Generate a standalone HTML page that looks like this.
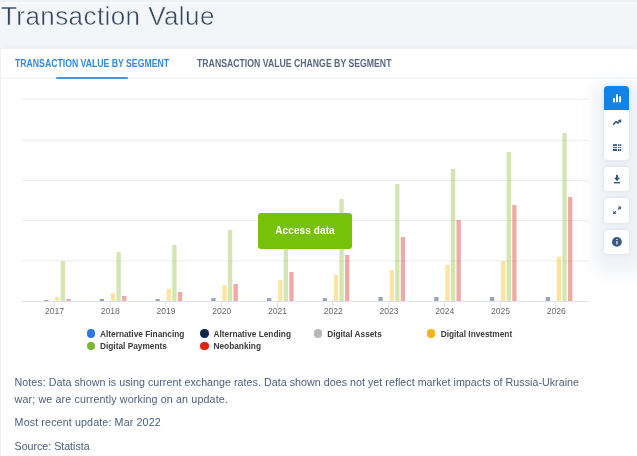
<!DOCTYPE html>
<html><head><meta charset="utf-8">
<style>
*{margin:0;padding:0;box-sizing:border-box}
html,body{width:637px;height:456px;overflow:hidden;background:#f3f6f9;font-family:"Liberation Sans",sans-serif}
.abs{position:absolute}
#topstrip{left:0;top:0;width:637px;height:2px;background:#eef1f6}
#topstrip2{left:0;top:2px;width:637px;height:2.2px;background:#f8fafc}
#title{left:1px;top:-0.2px;font-size:26px;line-height:32px;color:#34455c;white-space:nowrap;letter-spacing:0.42px;-webkit-text-stroke:0.5px #f3f6f9}
#card{left:1px;top:48.5px;width:637px;height:420px;background:#fff;border-radius:4px;box-shadow:0 -1px 7px rgba(40,60,90,0.06)}
.tab{top:58.2px;font-size:10px;font-weight:700;white-space:nowrap;line-height:11px;transform-origin:0 0}
#tab1{left:15px;color:#2f8ae0;transform:scaleX(0.868)}
#tab2{left:197.3px;color:#566980;transform:scaleX(0.870)}
#tabline{left:1px;top:77px;width:640px;height:2px;background:#f5f7fa}
#tabul{left:55.8px;top:77px;width:72.7px;height:2px;background:#4797de;border-radius:1px}
.notes{left:14.6px;font-size:10.7px;color:#4b6080;white-space:nowrap;line-height:17px}
#chart text{font-family:"Liberation Sans",sans-serif;font-size:8.6px;fill:#666}
.lg{font-size:8.3px;font-weight:700;color:#3a3a3a;white-space:nowrap;line-height:10px}
.dot{width:8.3px;height:8.3px;border-radius:50%}
#tbshadow{left:594px;top:82px;width:52px;height:190px;border-radius:12px;background:#eef1f6;filter:blur(8px)}
.tb{left:604px;width:25px;background:#fff;border-radius:4px;box-shadow:0 0 4px rgba(40,60,100,0.10)}
#access{left:258px;top:213px;width:94px;height:36px;background:#77c10b;border-radius:3px;color:#fff;font-weight:700;font-size:10px;line-height:36px;text-align:center;letter-spacing:0.1px}
</style></head><body>
<div class="abs" id="topstrip"></div>
<div class="abs" id="topstrip2"></div>
<div class="abs" id="title">Transaction Value</div>
<div class="abs" id="card"></div>
<div class="abs" id="tabline"></div>
<div class="abs tab" id="tab1">TRANSACTION VALUE BY SEGMENT</div>
<div class="abs tab" id="tab2">TRANSACTION VALUE CHANGE BY SEGMENT</div>
<div class="abs" id="tabul"></div>

<svg class="abs" id="chart" style="left:0;top:0" width="637" height="456">
<rect x="21.7" y="98.65" width="567.3" height="1" fill="#ececec"/>
<rect x="21.7" y="139.75" width="567.3" height="1" fill="#ececec"/>
<rect x="21.7" y="180" width="567.3" height="1" fill="#ececec"/>
<rect x="21.7" y="220" width="567.3" height="1" fill="#ececec"/>
<rect x="21.7" y="260.4" width="567.3" height="1" fill="#ececec"/>
<rect x="44.03" y="300" width="4.3" height="1" fill="#112b48" fill-opacity="0.42"/>
<rect x="99.77" y="299" width="4.3" height="2" fill="#112b48" fill-opacity="0.42"/>
<rect x="155.51" y="299" width="4.3" height="2" fill="#112b48" fill-opacity="0.42"/>
<rect x="211.25" y="298" width="4.3" height="3" fill="#112b48" fill-opacity="0.42"/>
<rect x="266.99" y="298" width="4.3" height="3" fill="#112b48" fill-opacity="0.42"/>
<rect x="322.73" y="298" width="4.3" height="3" fill="#112b48" fill-opacity="0.42"/>
<rect x="378.47" y="297" width="4.3" height="4" fill="#112b48" fill-opacity="0.42"/>
<rect x="434.21" y="297" width="4.3" height="4" fill="#112b48" fill-opacity="0.42"/>
<rect x="489.95" y="297" width="4.3" height="4" fill="#112b48" fill-opacity="0.42"/>
<rect x="545.69" y="297" width="4.3" height="4" fill="#112b48" fill-opacity="0.42"/>
<rect x="55.18" y="297" width="4.3" height="4" fill="#fabc1d" fill-opacity="0.42"/>
<rect x="110.92" y="293" width="4.3" height="8" fill="#fabc1d" fill-opacity="0.42"/>
<rect x="166.66" y="289" width="4.3" height="12" fill="#fabc1d" fill-opacity="0.42"/>
<rect x="222.40" y="285" width="4.3" height="16" fill="#fabc1d" fill-opacity="0.42"/>
<rect x="278.14" y="280" width="4.3" height="21" fill="#fabc1d" fill-opacity="0.42"/>
<rect x="333.88" y="275" width="4.3" height="26" fill="#fabc1d" fill-opacity="0.42"/>
<rect x="389.62" y="270" width="4.3" height="31" fill="#fabc1d" fill-opacity="0.42"/>
<rect x="445.36" y="265" width="4.3" height="36" fill="#fabc1d" fill-opacity="0.42"/>
<rect x="501.10" y="261" width="4.3" height="40" fill="#fabc1d" fill-opacity="0.42"/>
<rect x="556.84" y="257" width="4.3" height="44" fill="#fabc1d" fill-opacity="0.42"/>
<rect x="60.75" y="261" width="4.3" height="40" fill="#96c143" fill-opacity="0.42"/>
<rect x="116.49" y="252" width="4.3" height="49" fill="#96c143" fill-opacity="0.42"/>
<rect x="172.23" y="245" width="4.3" height="56" fill="#96c143" fill-opacity="0.42"/>
<rect x="227.97" y="230" width="4.3" height="71" fill="#96c143" fill-opacity="0.42"/>
<rect x="283.71" y="215" width="4.3" height="86" fill="#96c143" fill-opacity="0.42"/>
<rect x="339.45" y="199" width="4.3" height="102" fill="#96c143" fill-opacity="0.42"/>
<rect x="395.19" y="184" width="4.3" height="117" fill="#96c143" fill-opacity="0.42"/>
<rect x="450.93" y="169" width="4.3" height="132" fill="#96c143" fill-opacity="0.42"/>
<rect x="506.67" y="152" width="4.3" height="149" fill="#96c143" fill-opacity="0.42"/>
<rect x="562.41" y="133" width="4.3" height="168" fill="#96c143" fill-opacity="0.42"/>
<rect x="66.33" y="299" width="4.3" height="2" fill="#db3524" fill-opacity="0.42"/>
<rect x="122.07" y="296" width="4.3" height="5" fill="#db3524" fill-opacity="0.42"/>
<rect x="177.81" y="292" width="4.3" height="9" fill="#db3524" fill-opacity="0.42"/>
<rect x="233.55" y="284" width="4.3" height="17" fill="#db3524" fill-opacity="0.42"/>
<rect x="289.29" y="272" width="4.3" height="29" fill="#db3524" fill-opacity="0.42"/>
<rect x="345.03" y="255" width="4.3" height="46" fill="#db3524" fill-opacity="0.42"/>
<rect x="400.77" y="237" width="4.3" height="64" fill="#db3524" fill-opacity="0.42"/>
<rect x="456.51" y="220" width="4.3" height="81" fill="#db3524" fill-opacity="0.42"/>
<rect x="512.25" y="205" width="4.3" height="96" fill="#db3524" fill-opacity="0.42"/>
<rect x="567.99" y="197" width="4.3" height="104" fill="#db3524" fill-opacity="0.42"/>
<rect x="21.7" y="301" width="567.3" height="1" fill="#dce1f0"/>
<rect x="54" y="301" width="1" height="6.8" fill="#dce1f0"/>
<text x="54.54" y="314" text-anchor="middle">2017</text>
<rect x="110" y="301" width="1" height="6.8" fill="#dce1f0"/>
<text x="110.28" y="314" text-anchor="middle">2018</text>
<rect x="165" y="301" width="1" height="6.8" fill="#dce1f0"/>
<text x="166.02" y="314" text-anchor="middle">2019</text>
<rect x="221" y="301" width="1" height="6.8" fill="#dce1f0"/>
<text x="221.76" y="314" text-anchor="middle">2020</text>
<rect x="277" y="301" width="1" height="6.8" fill="#dce1f0"/>
<text x="277.50" y="314" text-anchor="middle">2021</text>
<rect x="332" y="301" width="1" height="6.8" fill="#dce1f0"/>
<text x="333.24" y="314" text-anchor="middle">2022</text>
<rect x="388" y="301" width="1" height="6.8" fill="#dce1f0"/>
<text x="388.98" y="314" text-anchor="middle">2023</text>
<rect x="444" y="301" width="1" height="6.8" fill="#dce1f0"/>
<text x="444.72" y="314" text-anchor="middle">2024</text>
<rect x="500" y="301" width="1" height="6.8" fill="#dce1f0"/>
<text x="500.46" y="314" text-anchor="middle">2025</text>
<rect x="555" y="301" width="1" height="6.8" fill="#dce1f0"/>
<text x="556.20" y="314" text-anchor="middle">2026</text>

</svg>

<div class="abs dot" style="left:86.85px;top:329.3px;background:#2a78e4"></div>
<div class="abs dot" style="left:200.45px;top:329.3px;background:#0f2a47"></div>
<div class="abs dot" style="left:313.85px;top:329.3px;background:#b7b7b7"></div>
<div class="abs dot" style="left:427.15px;top:329.3px;background:#fbb116"></div>
<div class="abs dot" style="left:86.85px;top:341.8px;background:#7ab829"></div>
<div class="abs dot" style="left:200.45px;top:341.8px;background:#de2410"></div>
<div class="abs lg" style="left:100px;top:329px">Alternative Financing</div>
<div class="abs lg" style="left:213.5px;top:329px">Alternative Lending</div>
<div class="abs lg" style="left:327.2px;top:329px">Digital Assets</div>
<div class="abs lg" style="left:440.7px;top:329px">Digital Investment</div>
<div class="abs lg" style="left:100px;top:341px">Digital Payments</div>
<div class="abs lg" style="left:213.5px;top:341px">Neobanking</div>

<div class="abs" id="tbshadow"></div>
<div class="abs tb" style="top:86px;height:74px;overflow:hidden">
  <div style="height:24px;background:#1282e6"></div>
</div>
<div class="abs tb" style="top:166.6px;height:24.2px"></div>
<div class="abs tb" style="top:198.4px;height:24.2px"></div>
<div class="abs tb" style="top:230.1px;height:23.9px"></div>
<svg class="abs" style="left:604px;top:86px" width="25" height="170" viewBox="0 0 25 170">
  <!-- bar chart icon -->
  <rect x="9" y="12" width="2" height="4.3" fill="#fff"/>
  <rect x="12" y="8.3" width="2" height="8" fill="#fff"/>
  <rect x="15" y="10.3" width="2" height="6" fill="#fff"/>
  <!-- trend -->
  <path d="M9.6 38.3 L12.2 35.5 L13.6 37.1 L15.6 35.4" stroke="#385679" stroke-width="1.5" fill="none" stroke-linecap="round" stroke-linejoin="round"/>
  <path d="M14.2 34.3 L17.1 33.7 L16.7 36.6 Z" fill="#385679" stroke="#385679" stroke-width="0.5" stroke-linejoin="round"/>
  <!-- table -->
  <g fill="#385679">
  <rect x="9" y="58.2" width="4" height="1.8"/>
  <rect x="14" y="58.2" width="1.4" height="1.8"/>
  <rect x="15.8" y="58.2" width="1.4" height="1.8"/>
  <rect x="9" y="61.1" width="4" height="1"/>
  <rect x="14" y="61.1" width="1.4" height="1"/>
  <rect x="15.8" y="61.1" width="1.4" height="1"/>
  <rect x="9" y="63" width="4" height="2"/>
  <rect x="14" y="63" width="1.4" height="2"/>
  <rect x="15.8" y="63" width="1.4" height="2"/>
  <!-- download -->
  <rect x="12" y="89" width="2" height="4"/>
  <path d="M10 91.7 L16 91.7 L13 95.2 Z"/>
  <rect x="10" y="96" width="6" height="1.4"/>
  <!-- expand -->
  <path d="M9.2 124.8 L9.2 128 L12.4 128 Z"/>
  <path d="M16.9 123.8 L16.9 120.6 L13.7 120.6 Z"/>
  </g>
  <path d="M10.4 126.8 L12 125.2 M14 123.6 L15.6 122" stroke="#385679" stroke-width="1.1"/>
  <!-- info -->
  <circle cx="12.9" cy="155.9" r="4.9" fill="#3a5a80"/>
  <rect x="12.4" y="155" width="1.1" height="3.4" fill="#fff"/>
  <circle cx="12.95" cy="153.4" r="0.7" fill="#fff"/>
</svg>

<div class="abs" id="access">Access data</div>

<div class="abs notes" style="top:374px;letter-spacing:0.032px">Notes: Data shown is using current exchange rates. Data shown does not yet reflect market impacts of Russia-Ukraine</div>
<div class="abs notes" style="top:391px;letter-spacing:0.14px">war; we are currently working on an update.</div>
<div class="abs notes" style="top:413.5px;letter-spacing:0.13px">Most recent update: Mar 2022</div>
<div class="abs notes" style="top:438px;letter-spacing:-0.03px">Source: Statista</div>
</body></html>
